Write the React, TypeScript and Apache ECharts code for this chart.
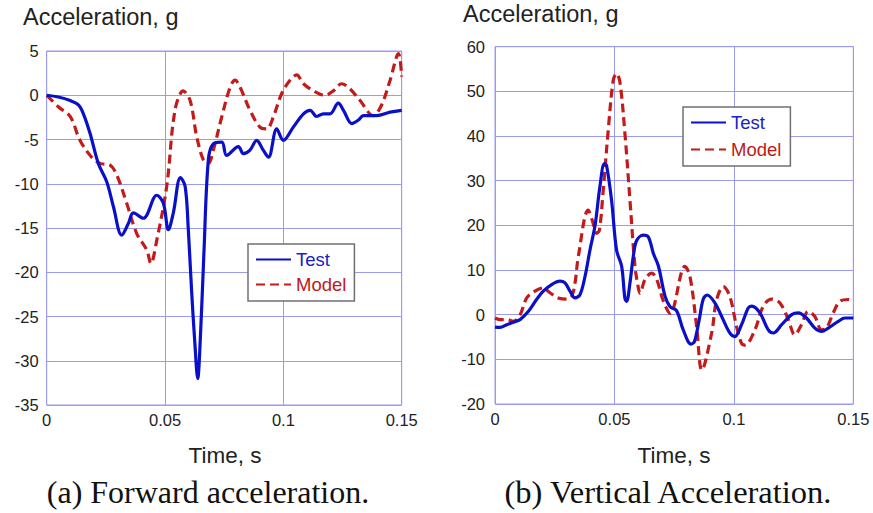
import React, { useEffect, useRef } from "react";
import * as echarts from "echarts";

// (a) Forward acceleration — Test
const fwdTestT = [0, 0.0049, 0.0099, 0.0134, 0.0155, 0.0183, 0.0218, 0.0254, 0.0282, 0.0317, 0.0345, 0.0366, 0.0408, 0.0465, 0.0493, 0.0514, 0.0535, 0.0565, 0.0585, 0.0598, 0.0612, 0.0626, 0.0638, 0.065, 0.0664, 0.0683, 0.0704, 0.074, 0.076, 0.081, 0.0831, 0.0859, 0.0887, 0.0915, 0.0937, 0.0972, 0.1, 0.1042, 0.1085, 0.1113, 0.1141, 0.1169, 0.1197, 0.1232, 0.1254, 0.1289, 0.1317, 0.1338, 0.1394, 0.1451, 0.15];
const fwdTestV = [0, -0.2, -0.6, -1.1, -2.1, -4.3, -7.7, -9.8, -12.6, -15.8, -14.5, -13.3, -13.9, -11.3, -12.2, -15.2, -13.3, -9.3, -10.3, -15, -22, -28, -32, -27, -18, -7.3, -5.5, -5.3, -6.8, -5.8, -6.6, -6.2, -5.1, -6.2, -7.0, -3.8, -5.1, -3.6, -2.1, -1.7, -2.4, -2.1, -2.1, -0.9, -1.7, -3.2, -2.8, -2.3, -2.3, -1.9, -1.7];

// (a) Forward acceleration — Model
const fwdModelT = [0, 0.0049, 0.0099, 0.0141, 0.019, 0.0225, 0.0268, 0.0296, 0.0338, 0.038, 0.0423, 0.0440, 0.0465, 0.0507, 0.0542, 0.0577, 0.0606, 0.0634, 0.0662, 0.0683, 0.0704, 0.074, 0.0775, 0.0796, 0.0817, 0.0859, 0.0901, 0.093, 0.0958, 0.0993, 0.1028, 0.1056, 0.1085, 0.1127, 0.1176, 0.1211, 0.1246, 0.1282, 0.1324, 0.138, 0.1415, 0.1451, 0.1486, 0.15];
const fwdModelV = [0, -1.3, -2.4, -5.1, -7.0, -7.7, -7.9, -9.0, -12.2, -15.6, -17.5, -19.0, -16.4, -10.3, -1.7, 0.5, -0.6, -4.7, -7.3, -7.7, -6.2, -2.4, 0.9, 1.7, 0.9, -1.7, -3.6, -3.8, -2.4, 0.2, 1.7, 2.3, 1.3, 0.5, 0, 0.5, 1.3, 0.7, -0.6, -2.3, -1.1, 1.7, 4.7, 2.1];

// (b) Vertical acceleration — Test
const vertTestT = [0, 0.0021, 0.0049, 0.0077, 0.0105, 0.014, 0.0174, 0.0202, 0.0237, 0.0272, 0.0293, 0.0314, 0.0335, 0.0356, 0.0377, 0.0398, 0.0419, 0.0439, 0.0458, 0.0467, 0.0488, 0.0509, 0.053, 0.0544, 0.0551, 0.0565, 0.0579, 0.0593, 0.0621, 0.0642, 0.0663, 0.0684, 0.0712, 0.0733, 0.076, 0.0788, 0.0821, 0.0835, 0.0855, 0.0872, 0.0888, 0.0921, 0.0949, 0.0983, 0.1004, 0.1032, 0.106, 0.1075, 0.1109, 0.1144, 0.1165, 0.12, 0.1242, 0.127, 0.1304, 0.1339, 0.1367, 0.1395, 0.1437, 0.1465, 0.15];
const vertTestV = [-2.8, -2.85, -2.25, -1.7, -1.1, 0.75, 3.4, 5.25, 6.75, 7.5, 7.1, 5.25, 3.75, 4.5, 8.6, 14.6, 20, 28.6, 33.8, 33.4, 25.6, 14.4, 10.9, 3.6, 3.0, 7.1, 13.1, 16.6, 17.8, 17.4, 13.7, 10.9, 4.1, 1.8, 0.9, -3.4, -6.6, -6.0, -1.1, 3.5, 4.4, 2.6, -0.4, -4.1, -4.9, -2.25, 1.5, 1.9, 0.4, -3.4, -4.1, -2.25, 0, 0.4, -0.75, -3.0, -3.75, -3.0, -1.5, -0.75, -0.75];

// (b) Vertical acceleration — Model
const vertModelT = [0, 0.002, 0.005, 0.0077, 0.0105, 0.0133, 0.0167, 0.0202, 0.023, 0.0265, 0.03, 0.0321, 0.0335, 0.0349, 0.039, 0.0408, 0.0425, 0.0437, 0.0453, 0.0474, 0.0495, 0.0509, 0.0523, 0.0544, 0.0565, 0.0586, 0.06, 0.0607, 0.0628, 0.0656, 0.0677, 0.0705, 0.0733, 0.0795, 0.0816, 0.0844, 0.0866, 0.0907, 0.0928, 0.0956, 0.0983, 0.1011, 0.1032, 0.1047, 0.1088, 0.1123, 0.1158, 0.1193, 0.1228, 0.1255, 0.1283, 0.1311, 0.1339, 0.1367, 0.1388, 0.1416, 0.1444, 0.1479, 0.15];
const vertModelV = [-0.75, -1.1, -1.1, -1.5, 0, 3.75, 5.25, 6.0, 4.9, 3.75, 3.5, 4.1, 7.1, 13.1, 23.4, 21.0, 18.2, 18.9, 27.8, 41.3, 52.5, 54, 52.1, 40.5, 25.6, 10.9, 6.0, 4.8, 7.9, 9.3, 7.9, 3.0, 0.3, 10.8, 8.6, -2.6, -12.4, -4.1, 3.4, 6.3, 4.1, -2.6, -6.4, -6.8, -3.4, 1.9, 3.5, 2.6, -1.1, -4.5, -2.25, 0.75, -0.4, -3.4, -3.0, 0.4, 3.0, 3.4, 3.2];

const xTicks = ["0", "0.05", "0.1", "0.15"];
const seriesNames = ["Test", "Model"];
const panelTitles = ["(a) Forward acceleration.", "(b) Vertical Acceleration."];
const axisTitleY = "Acceleration, g";
const axisTitleX = "Time, s";

const zip = (t: number[], v: number[]) => t.map((x, i) => [x, v[i]]);

const BLUE = "#0a0fc8";
const RED = "#c41a1a";
const GRIDC = "#9a9af0";
const SANS = "Liberation Sans, Arial, sans-serif";
const SERIF = "Liberation Serif, Times New Roman, serif";

export default function App() {
  const ref = useRef<HTMLDivElement>(null);
  useEffect(() => {
    if (!ref.current) return;
    const chart = echarts.init(ref.current, undefined, { renderer: "svg" });
    const xLabelFmt = (v: number) => {
      const idx = Math.round(v / 0.05);
      return xTicks[idx] ?? "";
    };
    const xAxisBase = {
      type: "value",
      min: 0,
      max: 0.15,
      interval: 0.05,
      axisLine: { show: false },
      axisTick: { show: false },
      splitLine: { show: true, lineStyle: { color: GRIDC, width: 1 } },
      axisLabel: { formatter: xLabelFmt, color: "#222", fontSize: 16.5, fontFamily: SANS, margin: 6 },
    };
    const yAxisBase = {
      type: "value",
      axisLine: { show: false },
      axisTick: { show: false },
      splitLine: { show: true, lineStyle: { color: GRIDC, width: 1 } },
    };
    const lineSeries = (name: string, xi: number, data: number[][], color: string, dashed: boolean) => ({
      type: "line",
      name,
      xAxisIndex: xi,
      yAxisIndex: xi,
      data,
      smooth: 0.35,
      symbol: "none",
      z: dashed ? 3 : 4,
      lineStyle: { color, width: 3.2, type: dashed ? [9, 5] : "solid" },
      itemStyle: { color },
    });
    const legendBase = {
      orient: "vertical",
      data: [
        { name: seriesNames[0], textStyle: { color: "#1a22c0" } },
        { name: seriesNames[1], textStyle: { color: "#c01818" } },
      ],
      itemWidth: 35,
      itemHeight: 16,
      selectedMode: false,
      backgroundColor: "#fff",
      borderColor: "#707070",
      borderWidth: 1.5,
      borderRadius: 0,
      itemStyle: { opacity: 0 },
      textStyle: { fontSize: 18.5, fontFamily: SANS },
    };
    chart.setOption({
      animation: false,
      backgroundColor: "#fff",
      grid: [
        { left: 46.7, top: 51, width: 355, height: 354, show: true, borderColor: GRIDC, borderWidth: 1, containLabel: false },
        { left: 495, top: 46.7, width: 358.3, height: 357.3, show: true, borderColor: GRIDC, borderWidth: 1, containLabel: false },
      ],
      xAxis: [
        { ...xAxisBase, gridIndex: 0 },
        { ...xAxisBase, gridIndex: 1 },
      ],
      yAxis: [
        { ...yAxisBase, gridIndex: 0, min: -35, max: 5, interval: 5, axisLabel: { color: "#222", fontSize: 16.5, fontFamily: SANS, margin: 8 } },
        { ...yAxisBase, gridIndex: 1, min: -20, max: 60, interval: 10, axisLabel: { color: "#222", fontSize: 16.5, fontFamily: SANS, margin: 10 } },
      ],
      legend: [
        { ...legendBase, left: 248, top: 244, itemGap: 6, padding: [6, 8, 7, 7] },
        { ...legendBase, left: 683, top: 107, itemGap: 8, padding: [6, 9, 7, 7] },
      ],
      series: [
        lineSeries(seriesNames[1], 0, zip(fwdModelT, fwdModelV), RED, true),
        lineSeries(seriesNames[0], 0, zip(fwdTestT, fwdTestV), BLUE, false),
        lineSeries(seriesNames[1], 1, zip(vertModelT, vertModelV), RED, true),
        lineSeries(seriesNames[0], 1, zip(vertTestT, vertTestV), BLUE, false),
      ],
      graphic: [
        { type: "text", left: 23, top: 5, style: { text: axisTitleY, font: `23.5px ${SANS}`, fill: "#222" } },
        { type: "text", left: 463, top: 2, style: { text: axisTitleY, font: `23.5px ${SANS}`, fill: "#222" } },
        { type: "text", x: 225, y: 455, style: { text: axisTitleX, font: `22.5px ${SANS}`, fill: "#222", align: "center", verticalAlign: "middle" } },
        { type: "text", x: 674, y: 455, style: { text: axisTitleX, font: `22.5px ${SANS}`, fill: "#222", align: "center", verticalAlign: "middle" } },
        { type: "text", x: 208, y: 492, style: { text: panelTitles[0], font: `32px ${SERIF}`, fill: "#111", align: "center", verticalAlign: "middle" } },
        { type: "text", x: 668, y: 492, style: { text: panelTitles[1], font: `32.5px ${SERIF}`, fill: "#111", align: "center", verticalAlign: "middle" } },
      ],
    });
    return () => chart.dispose();
  }, []);
  return <div ref={ref} style={{ position: "fixed", left: 0, top: 0, width: 873, height: 513 }} />;
}
